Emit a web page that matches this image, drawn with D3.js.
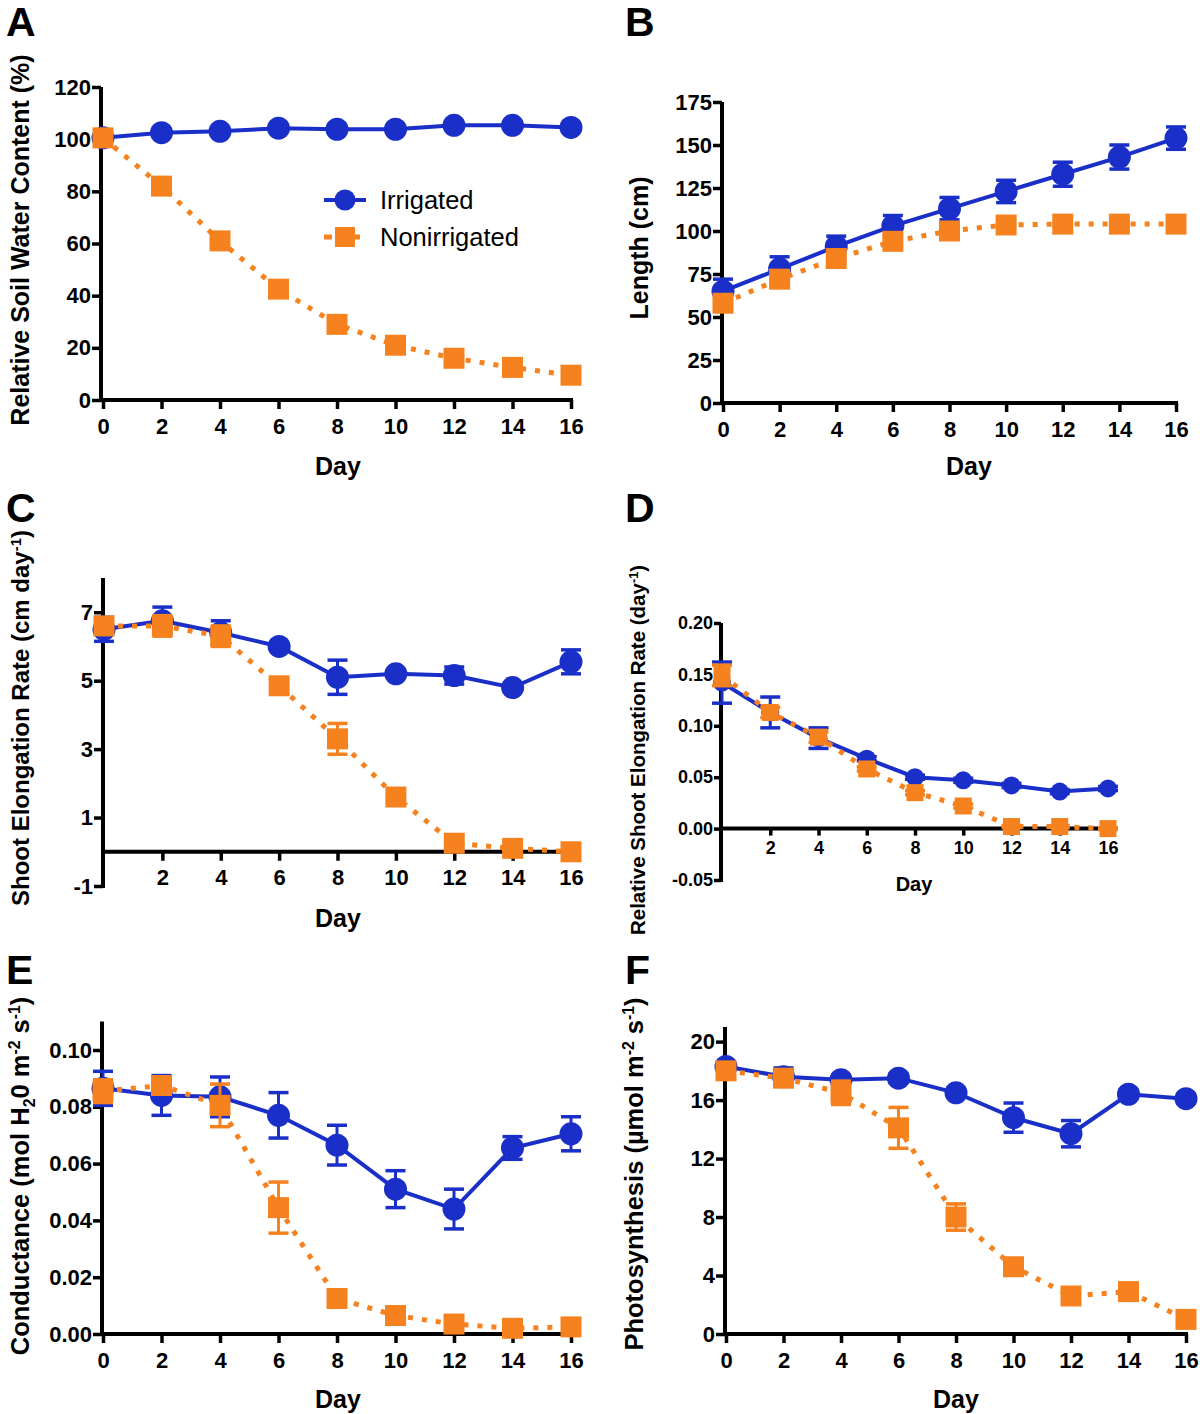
<!DOCTYPE html>
<html><head><meta charset="utf-8">
<script src="https://cdn.jsdelivr.net/npm/d3@7"></script>
<style>
body{margin:0;background:#fff;}
svg text{font-family:"Liberation Sans",Arial,Helvetica,sans-serif;font-weight:bold;}
</style></head>
<body>
<svg id="c" width="1200" height="1414"></svg>
<script>
const days = [0,2,4,6,8,10,12,14,16];
const seriesNames = ["Irrigated","Nonirrigated"];

// Panel A: Relative soil water content (%)
const aIrr = [100.5,102.5,103,104.2,103.8,103.8,105.3,105.3,104.5];
const aNon = [100.5,82,61,42.5,29,21,16,12.5,9.5];

// Panel B: Length (cm)
const bIrr = [65,78,91,103,113,123,133,143,154];
const bIrrErr = [7,7,6,6,6.5,6.5,7,7,6.5];
const bNon = [58,72,84,94,100,103.5,104,104,104];
const bNonErr = [3,2.5,2.5,2.5,2.5,1.5,1.5,1.5,1.5];

// Panel C: Shoot elongation rate (cm day-1)
const cIrr = [6.5,6.75,6.4,6.0,5.1,5.2,5.15,4.8,5.55];
const cIrrErr = [0.35,0.4,0.35,0.1,0.5,0.1,0.25,0.1,0.35];
const cNon = [6.6,6.6,6.3,4.85,3.3,1.6,0.25,0.1,0.0];
const cNonErr = [0.2,0.3,0.3,0.1,0.45,0.1,0.05,0.05,0.05];

// Panel D: Relative shoot elongation rate (day-1)
const dIrr = [0.142,0.113,0.088,0.068,0.05,0.047,0.042,0.036,0.039];
const dIrrErr = [0.02,0.015,0.01,0.002,0.002,0.002,0.002,0.002,0.002];
const dNon = [0.149,0.113,0.089,0.058,0.035,0.022,0.002,0.002,0.0];
const dNonErr = [0.01,0.005,0.005,0.002,0.002,0.002,0.001,0.001,0.001];

// Panel E: Conductance (mol H2O m-2 s-1)
const eIrr = [0.0865,0.084,0.0835,0.077,0.0665,0.051,0.044,0.0655,0.0705];
const eIrrErr = [0.006,0.007,0.007,0.008,0.007,0.0065,0.007,0.004,0.006];
const eNon = [0.0855,0.0875,0.0805,0.0445,0.0125,0.0065,0.0035,0.002,0.0025];
const eNonErr = [0.004,0.003,0.0075,0.009,0.001,0.001,0.001,0.001,0.001];

// Panel F: Photosynthesis (µmol m-2 s-1)
const fIrr = [18.3,17.6,17.4,17.5,16.5,14.8,13.7,16.4,16.1];
const fIrrErr = [0.3,0.6,0.3,0.3,0.3,1.0,0.9,0.3,0.3];
const fNon = [18.0,17.5,16.5,14.1,8.0,4.6,2.6,2.9,1.0];
const fNonErr = [0.3,0.4,0.8,1.4,0.9,0.3,0.3,0.3,0.3];

// Tick labels
const aTicks = [0,20,40,60,80,100,120];
const bTicks = [0,25,50,75,100,125,150,175];
const cTicks = [-1,1,3,5,7];
const dTicks = [-0.05,0,0.05,0.10,0.15,0.20];
const eTicks = [0,0.02,0.04,0.06,0.08,0.10];
const fTicks = [0,4,8,12,16,20];
const xTicksFull = [0,2,4,6,8,10,12,14,16];
const xTicksNoZero = [2,4,6,8,10,12,14,16];

const BLUE = "#1a2fc8", ORANGE = "#f5821f";
const svg = d3.select("#c");
const hy = f => (v => f(v).replace("\u2212","-"));

function panel(o){
  const g = svg.append("g");
  const x = d3.scaleLinear().domain([0,16]).range(o.xr);
  const y = d3.scaleLinear().domain(o.yd).range(o.yr);
  const fs = o.tickFs||22;
  const ya = g.append("g").attr("transform",`translate(${o.yAxisX},0)`)
    .call(d3.axisLeft(y).tickValues(o.yTicks).tickSize(o.tk||9).tickPadding(1).tickFormat(hy(o.yFmt)));
  const xaY = y(o.xAxisAt);
  const xa = g.append("g").attr("transform",`translate(0,${xaY})`)
    .call(d3.axisBottom(x).tickValues(o.xTicks).tickSize(o.tk||9).tickPadding(o.xpad||9));
  [ya,xa].forEach(a=>{
    a.select(".domain").attr("stroke","#000").attr("stroke-width",4);
    a.selectAll(".tick line").attr("stroke","#000").attr("stroke-width",3.5);
    a.selectAll("text").attr("fill","#000").attr("font-size",fs)
      .attr("font-family","Liberation Sans, Arial, sans-serif").attr("font-weight","bold");
  });
  ya.select(".domain").attr("d",`M0,${o.yr[0]+2}V${o.yr[1]}`);
  xa.select(".domain").attr("d",`M${o.yAxisX-2},0H${o.xr[1]+2}`);

  const series = [
    {v:o.irr, e:o.irrErr, color:BLUE, dash:null, shape:"circle"},
    {v:o.non, e:o.nonErr, color:ORANGE, dash:"5,9", shape:"square"}
  ];
  series.forEach(s=>{
    const pts = days.map((d,i)=>({d, v:s.v[i], e:s.e?s.e[i]:0}));
    const sg = g.append("g");
    sg.append("path").datum(pts)
      .attr("d", d3.line().x(p=>x(p.d)).y(p=>y(p.v)))
      .attr("fill","none").attr("stroke",s.color).attr("stroke-width",s.dash?5:4)
      .attr("stroke-dasharray",s.dash);
    if(s.e){
      pts.filter(p=>p.e>0).forEach(p=>{
        const cx=x(p.d), y1=y(p.v+p.e), y2=y(p.v-p.e);
        sg.append("line").attr("x1",cx).attr("x2",cx).attr("y1",y1).attr("y2",y2)
          .attr("stroke",s.color).attr("stroke-width",3);
        [y1,y2].forEach(yy=>sg.append("line").attr("x1",cx-10).attr("x2",cx+10)
          .attr("y1",yy).attr("y2",yy).attr("stroke",s.color).attr("stroke-width",3.5));
      });
    }
    pts.forEach(p=>{
      if(s.shape==="circle") sg.append("circle").attr("cx",x(p.d)).attr("cy",y(p.v)).attr("r",o.r||11.5).attr("fill",s.color);
      else { const h=o.sq||10.5; sg.append("rect").attr("x",x(p.d)-h).attr("y",y(p.v)-h).attr("width",2*h).attr("height",2*h).attr("fill",s.color); }
    });
  });
  g.append("text").attr("x",o.dayX).attr("y",o.dayY).attr("text-anchor","middle")
    .attr("font-size",o.dayFs||25).text("Day");
  const yl = g.append("text").attr("transform",`translate(${o.ylX},${o.ylY}) rotate(-90)`)
    .attr("text-anchor","middle").attr("font-size",o.ylFs||25);
  o.ylabel(yl);
  svg.append("text").attr("x",o.letX).attr("y",o.letY).attr("font-size",41).text(o.letter);
  return {g,x,y};
}

function sup(t, s){ t.append("tspan").attr("font-size","0.62em").attr("dy","-0.55em").text(s); }
function back(t, s){ t.append("tspan").attr("font-size","1em").attr("dy","0.34em").text(s); }

panel({letter:"A",letX:6,letY:36, xr:[103,571], yd:[0,120], yr:[400,87], yAxisX:101,
  yTicks:aTicks, yFmt:d3.format("d"), xTicks:xTicksFull, xAxisAt:0,
  irr:aIrr, non:aNon, dayX:338, dayY:475, ylX:29, ylY:240,
  ylabel:t=>t.text("Relative Soil Water Content (%)")});

panel({letter:"B",letX:625,letY:36, xr:[723,1176], yd:[0,175], yr:[403,102], yAxisX:722,
  yTicks:bTicks, yFmt:d3.format("d"), xTicks:xTicksFull, xAxisAt:0,
  irr:bIrr, irrErr:bIrrErr, non:bNon, nonErr:bNonErr, dayX:969, dayY:475, ylX:648, ylY:248,
  ylabel:t=>t.text("Length (cm)")});

panel({letter:"C",letX:6,letY:522, xr:[104,571], yd:[-1,8], yr:[886,578], yAxisX:103,
  yTicks:cTicks, yFmt:d3.format("d"), xTicks:xTicksNoZero, xAxisAt:0,
  irr:cIrr, irrErr:cIrrErr, non:cNon, nonErr:cNonErr, dayX:338, dayY:927, ylX:29, ylY:718, ylFs:24,
  ylabel:t=>{t.append("tspan").text("Shoot Elongation Rate (cm day"); sup(t,"-1"); back(t,")");}});

panel({letter:"D",letX:625,letY:522, xr:[722,1108], yd:[-0.05,0.2], yr:[880,623], yAxisX:721,
  yTicks:dTicks, yFmt:d3.format(".2f"), xTicks:xTicksNoZero, xAxisAt:0, tickFs:18, tk:7, xpad:6, r:9, sq:8.5,
  irr:dIrr, irrErr:dIrrErr, non:dNon, nonErr:dNonErr, dayX:914, dayY:891, dayFs:20, ylX:645, ylY:750, ylFs:20.5,
  ylabel:t=>{t.append("tspan").text("Relative Shoot Elongation Rate (day"); sup(t,"-1"); back(t,")");}});

panel({letter:"E",letX:6,letY:984, xr:[103,571], yd:[0,0.11], yr:[1334,1021.6], yAxisX:102,
  yTicks:eTicks, yFmt:d3.format(".2f"), xTicks:xTicksFull, xAxisAt:0,
  irr:eIrr, irrErr:eIrrErr, non:eNon, nonErr:eNonErr, dayX:338, dayY:1408, ylX:29, ylY:1176, ylFs:25.5,
  ylabel:t=>{t.append("tspan").text("Conductance (mol H");
    t.append("tspan").attr("font-size","0.62em").attr("dy","0.35em").text("2");
    t.append("tspan").attr("font-size","1em").attr("dy","-0.22em").text("0 m");
    sup(t,"-2"); back(t," s"); sup(t,"-1"); back(t,")");}});

panel({letter:"F",letX:625,letY:984, xr:[726,1186], yd:[0,21], yr:[1334,1027], yAxisX:725,
  yTicks:fTicks, yFmt:d3.format("d"), xTicks:xTicksFull, xAxisAt:0,
  irr:fIrr, irrErr:fIrrErr, non:fNon, nonErr:fNonErr, dayX:956, dayY:1408, ylX:643, ylY:1174, ylFs:25.5,
  ylabel:t=>{t.append("tspan").text("Photosynthesis (µmol m"); sup(t,"-2"); back(t," s"); sup(t,"-1"); back(t,")");}});

// Legend (panel A)
const leg = svg.append("g");
const legItems = [{name:seriesNames[0],color:BLUE,dash:null,shape:"circle",y:200},
                  {name:seriesNames[1],color:ORANGE,dash:"8,6",shape:"square",y:237}];
legItems.forEach(it=>{
  leg.append("line").attr("x1",324).attr("x2",366).attr("y1",it.y).attr("y2",it.y)
    .attr("stroke",it.color).attr("stroke-width",it.dash?5:4).attr("stroke-dasharray",it.dash);
  if(it.shape==="circle") leg.append("circle").attr("cx",345).attr("cy",it.y).attr("r",10.5).attr("fill",it.color);
  else leg.append("rect").attr("x",335).attr("y",it.y-10).attr("width",20).attr("height",20).attr("fill",it.color);
  leg.append("text").attr("x",380).attr("y",it.y+9).attr("font-size",25.5)
    .style("font-weight","normal").text(it.name);
});
</script>
</body></html>
